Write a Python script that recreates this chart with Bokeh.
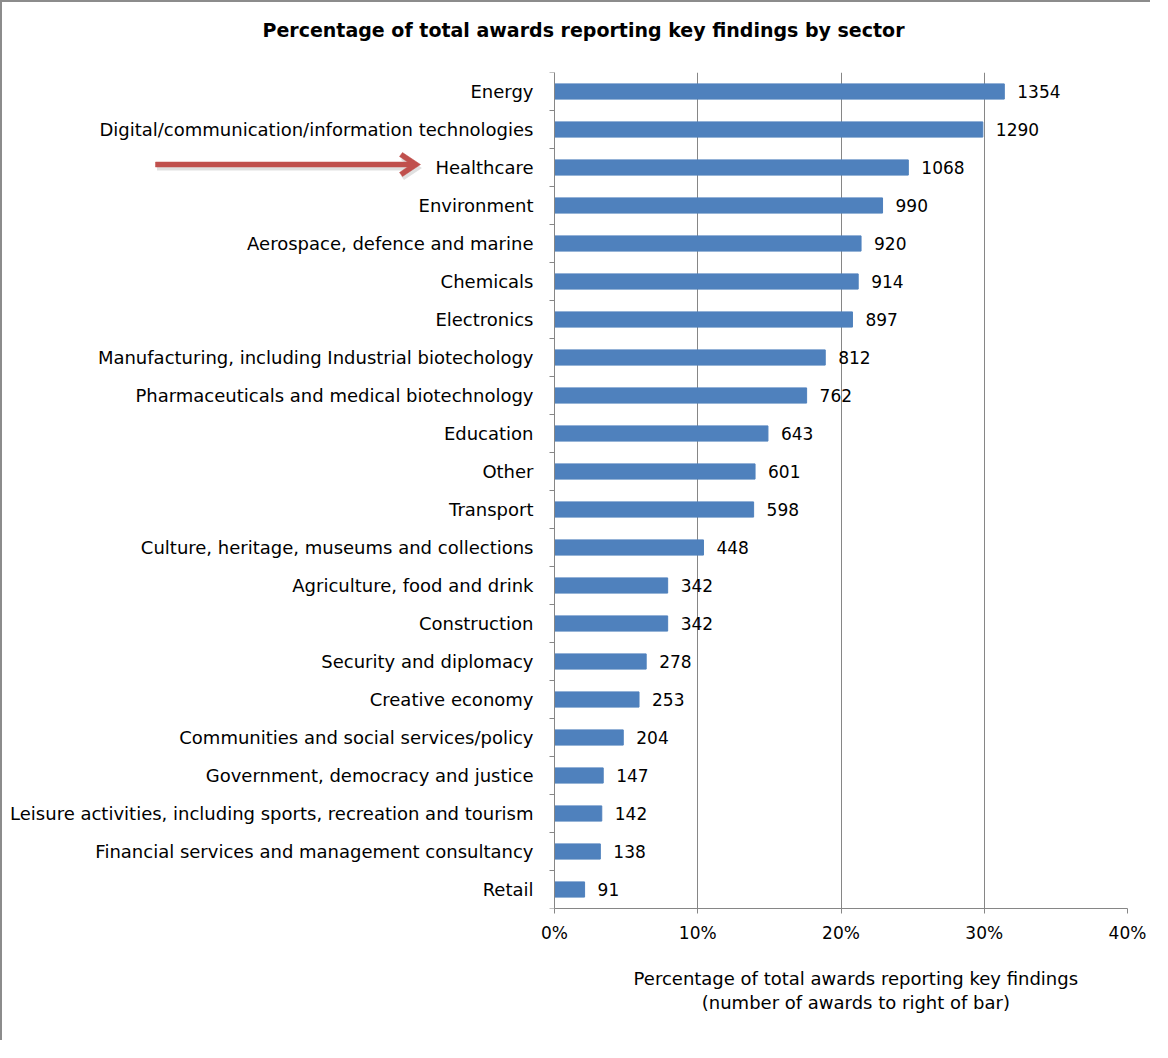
from bokeh.plotting import figure
from bokeh.models import FixedTicker, Range1d, ColumnDataSource
from bokeh.embed import file_html
from bokeh.resources import INLINE
from bokeh.core.properties import value

# ---- data (top to bottom as shown) ----
categories = [
    "Energy",
    "Digital/communication/information technologies",
    "Healthcare",
    "Environment",
    "Aerospace, defence and marine",
    "Chemicals",
    "Electronics",
    "Manufacturing, including Industrial biotechology",
    "Pharmaceuticals and medical biotechnology",
    "Education",
    "Other",
    "Transport",
    "Culture, heritage, museums and collections",
    "Agriculture, food and drink",
    "Construction",
    "Security and diplomacy",
    "Creative economy",
    "Communities and social services/policy",
    "Government, democracy and justice",
    "Leisure activities, including sports, recreation and tourism",
    "Financial services and management consultancy",
    "Retail",
]
percent = [31.4, 29.9, 24.7, 22.9, 21.4, 21.2, 20.8, 18.9, 17.6, 14.9, 14.0,
           13.9, 10.4, 7.9, 7.9, 6.4, 5.9, 4.8, 3.4, 3.3, 3.2, 2.1]
awards = [1354, 1290, 1068, 990, 920, 914, 897, 812, 762, 643, 601,
          598, 448, 342, 342, 278, 253, 204, 147, 142, 138, 91]
x_ticks = [0, 10, 20, 30, 40]
x_tick_labels = ["0%", "10%", "20%", "30%", "40%"]
highlight = "Healthcare"
title_text = "Percentage of total awards reporting key findings by sector"
x_title_lines = ["Percentage of total awards reporting key findings",
                 "(number of awards to right of bar)"]

FONT = "DejaVu Sans"
GRAY = "#868686"
BLUE = "#4F81BD"
RED = "#C0504D"

# layout (pixels): the plot area spans the label column too, so that the
# highlight arrow can be drawn; the value axis starts AXIS_PX from its left
W, H = 1150, 1040
MB_R, MB_T, MB_B = 25, 70, 134
FRAME_W = W - MB_R
FRAME_H = H - MB_T - MB_B
AXIS_PX = 552
DATA_PX = FRAME_W - AXIS_PX
x_min = -(x_ticks[-1] - x_ticks[0]) * AXIS_PX / DATA_PX

n = len(categories)
ypos = [n - 1 - i + 0.5 for i in range(n)]
src = ColumnDataSource(dict(cat=categories, pct=percent, y=ypos,
                            lbl=[str(a) for a in awards]))

p = figure(width=W, height=H, output_backend="svg", toolbar_location=None,
           x_range=Range1d(x_min, x_ticks[-1]), y_range=Range1d(0, n),
           min_border_left=0, min_border_right=MB_R, min_border_top=MB_T,
           min_border_bottom=MB_B)
p.styles = {"border-top": "2px solid #8c8c8c", "border-left": "2px solid #8c8c8c"}
p.outline_line_color = None
p.background_fill_color = "white"
p.border_fill_color = "white"

# title (a blank second line lifts it away from the plot area)
p.title.text = title_text + "\n\u00a0"
p.title.text_font = FONT
p.title.text_font_size = "19px"
p.title.text_font_style = "bold"
p.title.text_color = "black"
p.title.align = "left"
p.title.offset = 260
p.title.standoff = 20

p.hbar(y="y", right="pct", left=0, height=0.4, source=src,
       fill_color=BLUE, line_color=BLUE)
p.text(x="pct", y="y", text="lbl", source=src, x_offset=13,
       text_baseline="middle", text_align="left",
       text_font=value(FONT), text_font_size="17px", text_color="black")

# x axis (drawn only over the value range)
xa = p.xaxis[0]
xa.bounds = (x_ticks[0], x_ticks[-1])
xa.ticker = FixedTicker(ticks=x_ticks)
xa.major_label_overrides = {t: l for t, l in zip(x_ticks, x_tick_labels)}
xa.axis_line_color = GRAY
xa.major_tick_line_color = GRAY
xa.major_tick_in = 0
xa.major_tick_out = 5
xa.minor_tick_line_color = None
xa.major_label_standoff = 9
xa.major_label_text_font = FONT
xa.major_label_text_font_size = "17px"
xa.major_label_text_color = "black"
# the axis title is centred on the whole plot area; pad it so that it sits
# under the value range
pad = "\u2003" * 32 + "\u00a0"
xa.axis_label = "\n".join(pad + s for s in x_title_lines)
xa.axis_label_text_font = FONT
xa.axis_label_text_font_size = "18px"
xa.axis_label_text_font_style = "normal"
xa.axis_label_text_color = "black"
xa.axis_label_standoff = 22
xa.axis_label_text_line_height = 1.15

# y axis at x = 0: labels at category centres, ticks at category boundaries
ya = p.yaxis[0]
ya.fixed_location = 0
ya.ticker = FixedTicker(ticks=ypos, minor_ticks=list(range(n + 1)))
ya.major_label_overrides = {y: c for y, c in zip(ypos, categories)}
ya.axis_line_color = GRAY
ya.major_tick_line_color = None
ya.major_tick_in = 0
ya.major_tick_out = 0
ya.minor_tick_line_color = GRAY
ya.minor_tick_in = 0
ya.minor_tick_out = 5
ya.major_label_standoff = 16
ya.major_label_text_font = FONT
ya.major_label_text_font_size = "18px"
ya.major_label_text_color = "black"

p.xgrid.ticker = FixedTicker(ticks=x_ticks)
p.xgrid.grid_line_color = GRAY
p.ygrid.grid_line_color = None

# highlight arrow pointing at the Healthcare label (shape in pixels relative
# to the arrow tip, converted to data units)
xpx = DATA_PX / (x_ticks[-1] - x_ticks[0])
ypx = FRAME_H / n
tip_x = -134 / xpx
tip_y = ypos[categories.index(highlight)] + 3 / ypx
shape = [(0, 0), (-18, 12), (-21, 8), (-13, 2.5), (-265, 2.5),
         (-265, -2.5), (-13, -2.5), (-21, -8), (-18, -12)]


def poly(dx, dy):
    return ([tip_x + (sx + dx) / xpx for sx, sy in shape],
            [tip_y + (sy + dy) / ypx for sx, sy in shape])


shx, shy = poly(1.5, -3.5)
p.patch(shx, shy, fill_color="#000000", fill_alpha=0.12, line_color=None)
arx, ary = poly(0, 0)
p.patch(arx, ary, fill_color=RED, line_color=RED, line_width=0.5)

open("out.html", "w").write(file_html(p, INLINE))
